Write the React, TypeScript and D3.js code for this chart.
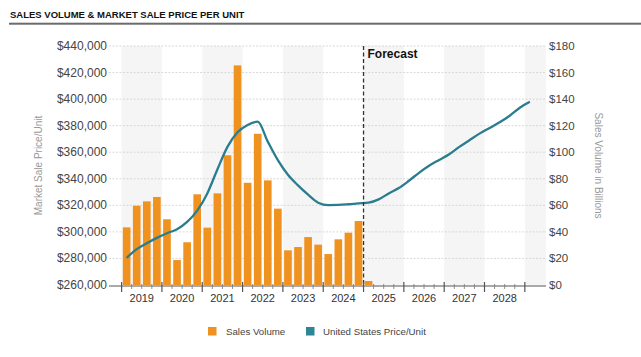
import React from "react";
import * as d3 from "d3";

// Quarterly sales volume ($ billions), 2019 Q1 .. 2025 Q1
const salesVolume = [
  43.4, 59.7, 63, 66.3,
  49.5, 18.8, 32.2, 68.3,
  43.2, 69, 97.7, 165.4,
  77, 113.9, 78.8, 57.5,
  26.1, 28.6, 36.1, 30.4,
  23.3, 34.4, 39.4, 48.2,
  3,
];

// Quarterly market sale price per unit ($), 2019 Q1 .. 2029 Q1
const pricePerUnit = [
  280500, 287000, 291500, 295500,
  299000, 302000, 307500, 316000,
  329000, 347000, 364000, 375000,
  380500, 383000, 368000, 354000,
  343000, 335000, 328000, 322000,
  320200, 320300, 320800, 321500,
  322000, 324500, 329000, 333000,
  338500, 344500, 349800, 354200,
  358500, 364000, 369000, 374000,
  378300, 382500, 387500, 393500,
  398000,
];

const yearLabels = ["2019", "2020", "2021", "2022", "2023", "2024", "2025", "2026", "2027", "2028"];
const leftTicks = [260000, 280000, 300000, 320000, 340000, 360000, 380000, 400000, 420000, 440000];
const rightTicks = [0, 20, 40, 60, 80, 100, 120, 140, 160, 180];
const forecastStartQuarter = 24; // 2025 Q1
const shadedYears = [2019, 2021, 2023, 2025, 2027, 2029];

const W = 641;
const H = 357;
const FONT = "Arial, 'Liberation Sans', Helvetica, sans-serif";
const ORANGE = "#F0921F";
const TEAL = "#2A7D8F";

export default function App() {
  const plotL = 109;
  const plotR = 546;
  const plotT = 46;
  const plotB = 285;
  const axisY = 286;

  const x = d3.scaleLinear().domain([-1.25, 42.1]).range([plotL, plotR]);
  const yL = d3.scaleLinear().domain([260000, 440000]).range([plotB, plotT]);
  const yR = d3.scaleLinear().domain([0, 180]).range([plotB, plotT]);

  const line = d3
    .line<number>()
    .x((_, i) => x(i + 0.5))
    .y((d) => yL(d))
    .curve(d3.curveMonotoneX);

  const fmtL = (v: number) => "$" + d3.format(",")(v);

  const yearStarts = d3.range(0, 11).map((k) => k * 4);
  const minorQuarters = d3.range(0, 41).filter((q) => q % 4 !== 0);

  return (
    <svg
      width={W}
      height={H}
      style={{ position: "absolute", left: 0, top: 0, background: "#fff" }}
      fontFamily={FONT}
    >
      <rect x={0} y={0} width={W} height={H} fill="#fff" />
      {/* title */}
      <text x={10} y={18} fontSize={9.5} fontWeight="bold" fill="#111">
        SALES VOLUME &amp; MARKET SALE PRICE PER UNIT
      </text>
      <rect x={9} y={22.7} width={W - 9} height={2} fill="#6b6b6b" />

      {/* shaded year bands */}
      {shadedYears.map((yr) => {
        const q0 = (yr - 2019) * 4;
        const x0 = x(q0);
        const x1 = Math.min(x(q0 + 4), plotR);
        return <rect key={yr} x={x0} y={plotT} width={x1 - x0} height={plotB - plotT} fill="#f5f5f5" />;
      })}

      {/* gridlines */}
      {leftTicks.slice(1).map((t) => (
        <line
          key={t}
          x1={plotL}
          x2={plotR}
          y1={yL(t)}
          y2={yL(t)}
          stroke="#cfcfcf"
          strokeWidth={0.8}
          strokeDasharray="2,1.5"
        />
      ))}

      {/* bars */}
      {salesVolume.map((v, i) => (
        <rect
          key={i}
          x={x(i + 0.12)}
          y={yR(v)}
          width={x(i + 0.88) - x(i + 0.12)}
          height={plotB - yR(v)}
          fill={ORANGE}
        />
      ))}

      {/* price line */}
      <path d={line(pricePerUnit) || ""} fill="none" stroke={TEAL} strokeWidth={2.3} strokeLinejoin="round" />

      {/* forecast marker */}
      <line
        x1={x(forecastStartQuarter)}
        x2={x(forecastStartQuarter)}
        y1={plotT}
        y2={axisY}
        stroke="#333"
        strokeWidth={1.3}
        strokeDasharray="4,2.5"
      />
      <text x={x(forecastStartQuarter) + 4} y={58} fontSize={12} fontWeight="bold" fill="#111">
        Forecast
      </text>

      {/* x axis */}
      <line x1={plotL} x2={plotR} y1={axisY} y2={axisY} stroke="#555" strokeWidth={1} />
      {yearStarts.map((q) => (
        <line key={"M" + q} x1={x(q)} x2={x(q)} y1={axisY - 4} y2={axisY + 6} stroke="#555" strokeWidth={1.2} />
      ))}
      {minorQuarters.map((q) => (
        <line key={"m" + q} x1={x(q)} x2={x(q)} y1={axisY - 2} y2={axisY + 3} stroke="#777" strokeWidth={0.8} />
      ))}
      {yearLabels.map((lab, k) => (
        <text key={lab} x={x(k * 4 + 2)} y={302} fontSize={11} textAnchor="middle" fill="#333">
          {lab}
        </text>
      ))}

      {/* left axis labels */}
      {leftTicks.map((t) => (
        <text key={t} x={107} y={yL(t) + 4} fontSize={12} textAnchor="end" fill="#444">
          {fmtL(t)}
        </text>
      ))}
      {/* right axis labels */}
      {rightTicks.map((t) => (
        <text key={t} x={549} y={yR(t) + 4} fontSize={11.5} textAnchor="start" fill="#444">
          {"$" + t}
        </text>
      ))}

      {/* axis titles */}
      <text
        transform={`translate(42,${(plotT + plotB) / 2}) rotate(-90)`}
        fontSize={10}
        textAnchor="middle"
        fill="#999"
      >
        Market Sale Price/Unit
      </text>
      <text
        transform={`translate(595,${(plotT + plotB) / 2}) rotate(90)`}
        fontSize={10}
        textAnchor="middle"
        fill="#999"
      >
        Sales Volume in Billions
      </text>

      {/* legend */}
      <rect x={208} y={327} width={8.5} height={8.5} fill={ORANGE} />
      <text x={226} y={334.5} fontSize={9.7} fill="#444">
        Sales Volume
      </text>
      <rect x={306} y={327} width={8.5} height={8.5} fill={"#2F8598"} />
      <text x={323} y={334.5} fontSize={9.7} fill="#444">
        United States Price/Unit
      </text>
    </svg>
  );
}
